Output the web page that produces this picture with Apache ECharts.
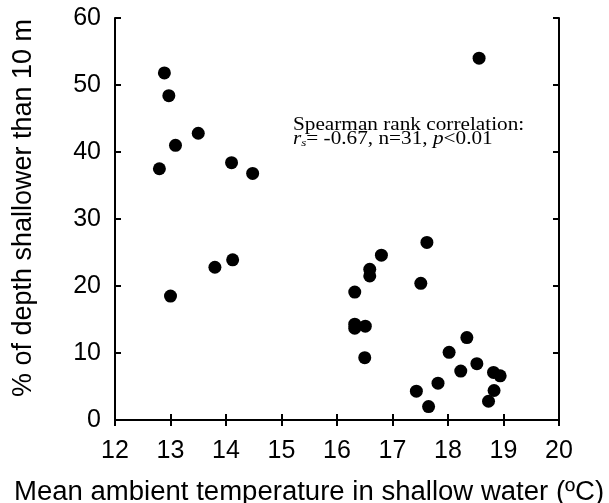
<!DOCTYPE html>
<html>
<head>
<meta charset="utf-8">
<script src="https://cdn.jsdelivr.net/npm/echarts@6/dist/echarts.min.js"></script>
<style>
html, body { margin: 0; padding: 0; background: #fff; }
#chart { width: 609px; height: 503px; }
</style>
</head>
<body>
<div id="chart"></div>
<script>
// mean ambient temperature in shallow water (ºC)
const temps = [12.89, 12.97, 13.50, 13.09, 12.80, 14.10, 14.48, 14.12, 13.80, 13.00,
    17.62, 16.80, 16.59, 16.59, 17.51, 16.32, 16.32, 16.32, 16.51, 16.50,
    18.34, 18.02, 18.52, 18.23, 18.82, 18.94, 17.82, 17.43, 18.83, 18.73, 17.65, 18.56]
// % of depth shallower than 10 m
const shallowPct = [51.8, 48.4, 42.8, 41.0, 37.5, 38.4, 36.8, 23.9, 22.8, 18.5,
    26.5, 24.6, 22.5, 21.5, 20.4, 19.1, 14.3, 13.7, 14.0, 9.3,
    12.3, 10.1, 8.4, 7.3, 7.1, 6.6, 5.5, 4.3, 4.4, 2.8, 2.0, 54.0]
// axis ranges and tick steps
const xRange = [12, 20]
const xStep = 1
const yRange = [0, 60]
const yStep = 10

const xTitle = 'Mean ambient temperature in shallow water (ºC)'
const yTitle = '% of depth shallower than 10 m'

const points = temps.map((t, i) => [t, shallowPct[i]])

const chart = echarts.init(document.getElementById('chart'))

const sans = '"Liberation Sans", Arial, sans-serif'
const serif = '"Liberation Serif", "Times New Roman", serif'
const axisLine = { show: true, lineStyle: { color: '#000', width: 2 } }
const innerTick = { show: true, inside: true, length: 6, lineStyle: { color: '#000', width: 2 } }
const labelFont = { color: '#000', fontFamily: sans, fontSize: 25 }

chart.setOption({
    animation: false,
    backgroundColor: '#fff',
    grid: { left: 115, right: 50, top: 18, bottom: 83 },
    xAxis: [
        {
            type: 'value', min: xRange[0], max: xRange[1], interval: xStep,
            position: 'bottom',
            axisLine, axisTick: innerTick,
            axisLabel: { ...labelFont, margin: 19 },
            splitLine: { show: false }
        },
        {
            type: 'value', min: xRange[0], max: xRange[1], interval: xStep,
            position: 'top',
            axisLine, axisTick: innerTick,
            axisLabel: { show: false },
            splitLine: { show: false }
        }
    ],
    yAxis: [
        {
            type: 'value', min: yRange[0], max: yRange[1], interval: yStep,
            position: 'left',
            axisLine, axisTick: innerTick,
            axisLabel: { ...labelFont, margin: 14 },
            splitLine: { show: false }
        },
        {
            type: 'value', min: yRange[0], max: yRange[1], interval: yStep,
            position: 'right',
            axisLine, axisTick: innerTick,
            axisLabel: { show: false },
            splitLine: { show: false }
        }
    ],
    graphic: [
        {
            type: 'text', x: 14, y: 493, scaleX: 1.02,
            style: { text: xTitle, fill: '#000', font: '27px ' + sans, align: 'left', verticalAlign: 'middle' }
        },
        {
            type: 'text', x: 24, y: 208, rotation: Math.PI / 2,
            style: { text: yTitle, fill: '#000', font: '27px ' + sans, align: 'center', verticalAlign: 'middle' }
        },
        {
            type: 'text', x: 293, y: 125, scaleX: 1.18,
            style: {
                text: 'Spearman rank correlation:',
                fill: '#000', font: '18px ' + serif, align: 'left', verticalAlign: 'middle'
            }
        },
        {
            type: 'text', x: 293, y: 139, scaleX: 1.18,
            style: {
                text: '{i|r}{sub|s}{n|= -0.67, n=31, }{i|p}{n|<0.01}',
                fill: '#000', align: 'left', verticalAlign: 'middle',
                rich: {
                    n: { fontFamily: serif, fontSize: 18 },
                    i: { fontFamily: serif, fontSize: 18, fontStyle: 'italic' },
                    sub: { fontFamily: serif, fontSize: 11, fontStyle: 'italic', padding: [9, 0, 0, 0] }
                }
            }
        }
    ],
    series: [
        {
            type: 'scatter',
            data: points,
            symbol: 'circle',
            symbolSize: 13,
            itemStyle: { color: '#000', opacity: 1 }
        }
    ]
})
</script>
</body>
</html>
